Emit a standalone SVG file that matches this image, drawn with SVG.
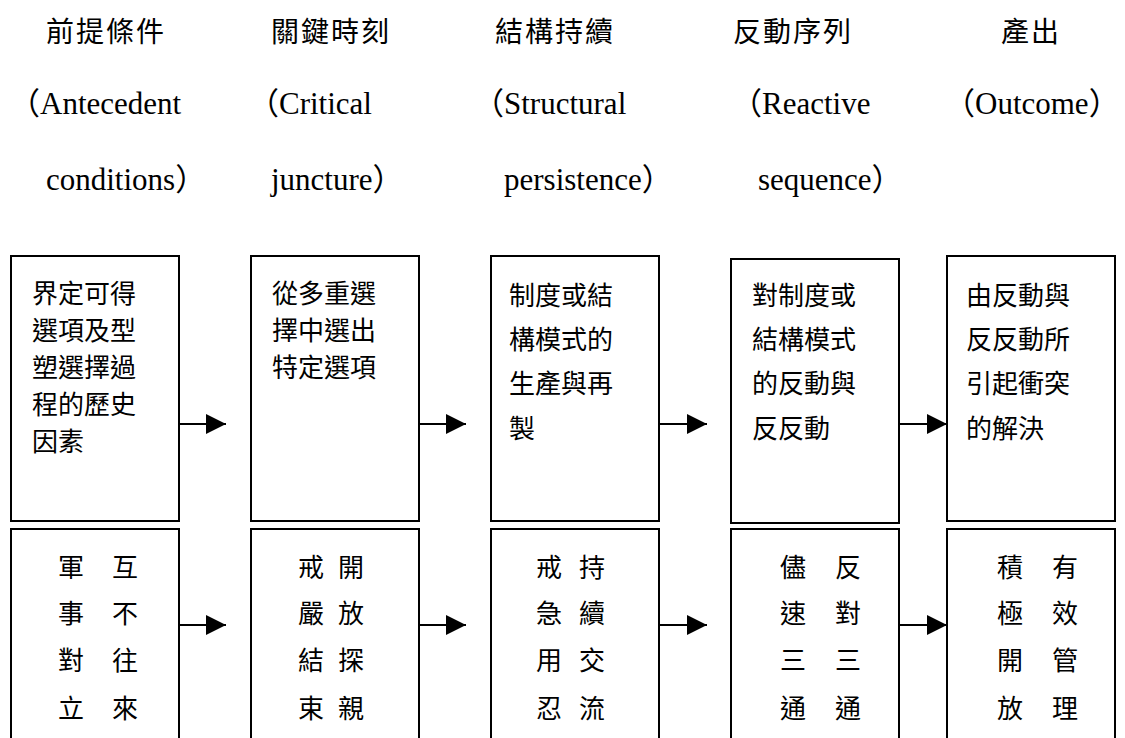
<svg xmlns="http://www.w3.org/2000/svg" width="1125" height="738" viewBox="0 0 1125 738">
<style>
.h{font-family:"Noto Sans CJK TC","Noto Sans CJK SC",sans-serif;font-size:28px;letter-spacing:2px;fill:#000}
.e{font-family:"Liberation Serif","Noto Sans CJK TC",serif;font-size:31px;fill:#000}
.t{font-family:"Noto Sans CJK TC","Noto Sans CJK SC",sans-serif;font-size:26px;fill:#000}
.b{fill:#fff;stroke:#000;stroke-width:2}
.c{stroke:#000;stroke-width:2;fill:none}
</style>
<defs>
<marker id="ah" markerWidth="20" markerHeight="20" refX="20" refY="10" orient="auto" markerUnits="userSpaceOnUse">
<path d="M0,0 L20,10 L0,20 Z" fill="#000"/>
</marker>
</defs>
<rect width="1125" height="738" fill="#fff"/>
<g id="headers">
<text class="h" x="46" y="42">前提條件</text>
<text class="h" x="271" y="42">關鍵時刻</text>
<text class="h" x="495" y="42">結構持續</text>
<text class="h" x="733" y="42">反動序列</text>
<text class="h" x="1001" y="42" letter-spacing="8">產出</text>
<text class="e" x="9" y="114">（Antecedent</text>
<text class="e" x="248" y="114">（Critical</text>
<text class="e" x="473" y="114">（Structural</text>
<text class="e" x="731" y="114">（Reactive</text>
<text class="e" x="944" y="114">（Outcome）</text>
<text class="e" x="46" y="190">conditions）</text>
<text class="e" x="271" y="190">juncture）</text>
<text class="e" x="504" y="190">persistence）</text>
<text class="e" x="758" y="190">sequence）</text>
</g>
<g id="node1">
<rect class="b" x="11" y="256" width="168" height="265"/>
<text class="t" x="32" y="303">界定可得</text>
<text class="t" x="32" y="340">選項及型</text>
<text class="t" x="32" y="377">塑選擇過</text>
<text class="t" x="32" y="414">程的歷史</text>
<text class="t" x="32" y="451">因素</text>
</g>
<g id="node2">
<rect class="b" x="251" y="256" width="168" height="265"/>
<text class="t" x="272" y="303">從多重選</text>
<text class="t" x="272" y="340">擇中選出</text>
<text class="t" x="272" y="377">特定選項</text>
</g>
<g id="node3">
<rect class="b" x="491" y="256" width="168" height="265"/>
<text class="t" x="509" y="305">制度或結</text>
<text class="t" x="509" y="349">構模式的</text>
<text class="t" x="509" y="393">生產與再</text>
<text class="t" x="509" y="438">製</text>
</g>
<g id="node4">
<rect class="b" x="731" y="259" width="168" height="264"/>
<text class="t" x="752" y="305">對制度或</text>
<text class="t" x="752" y="349">結構模式</text>
<text class="t" x="752" y="393">的反動與</text>
<text class="t" x="752" y="438">反反動</text>
</g>
<g id="node5">
<rect class="b" x="947" y="256" width="168" height="265"/>
<text class="t" x="966" y="305">由反動與</text>
<text class="t" x="966" y="349">反反動所</text>
<text class="t" x="966" y="393">引起衝突</text>
<text class="t" x="966" y="438">的解決</text>
</g>
<g id="node6" text-anchor="middle">
<rect class="b" x="11" y="529" width="168" height="240"/>
<text class="t" x="71" y="577">軍</text><text class="t" x="71" y="623">事</text><text class="t" x="71" y="670">對</text><text class="t" x="71" y="718">立</text>
<text class="t" x="125" y="577">互</text><text class="t" x="125" y="623">不</text><text class="t" x="125" y="670">往</text><text class="t" x="125" y="718">來</text>
</g>
<g id="node7" text-anchor="middle">
<rect class="b" x="251" y="529" width="168" height="240"/>
<text class="t" x="311" y="577">戒</text><text class="t" x="311" y="623">嚴</text><text class="t" x="311" y="670">結</text><text class="t" x="311" y="718">束</text>
<text class="t" x="351" y="577">開</text><text class="t" x="351" y="623">放</text><text class="t" x="351" y="670">探</text><text class="t" x="351" y="718">親</text>
</g>
<g id="node8" text-anchor="middle">
<rect class="b" x="491" y="529" width="168" height="240"/>
<text class="t" x="549" y="577">戒</text><text class="t" x="549" y="623">急</text><text class="t" x="549" y="670">用</text><text class="t" x="549" y="718">忍</text>
<text class="t" x="592" y="577">持</text><text class="t" x="592" y="623">續</text><text class="t" x="592" y="670">交</text><text class="t" x="592" y="718">流</text>
</g>
<g id="node9" text-anchor="middle">
<rect class="b" x="731" y="529" width="168" height="240"/>
<text class="t" x="793" y="577">儘</text><text class="t" x="793" y="623">速</text><text class="t" x="793" y="670">三</text><text class="t" x="793" y="718">通</text>
<text class="t" x="848" y="577">反</text><text class="t" x="848" y="623">對</text><text class="t" x="848" y="670">三</text><text class="t" x="848" y="718">通</text>
</g>
<g id="node10" text-anchor="middle">
<rect class="b" x="947" y="529" width="168" height="240"/>
<text class="t" x="1010" y="577">積</text><text class="t" x="1010" y="623">極</text><text class="t" x="1010" y="670">開</text><text class="t" x="1010" y="718">放</text>
<text class="t" x="1065" y="577">有</text><text class="t" x="1065" y="623">效</text><text class="t" x="1065" y="670">管</text><text class="t" x="1065" y="718">理</text>
</g>
<g id="connectors">
<path class="c" d="M179,424 H226" marker-end="url(#ah)"/>
<path class="c" d="M419,424 H466" marker-end="url(#ah)"/>
<path class="c" d="M659,424 H707" marker-end="url(#ah)"/>
<path class="c" d="M899,424 H947" marker-end="url(#ah)"/>
<path class="c" d="M179,625 H226" marker-end="url(#ah)"/>
<path class="c" d="M419,625 H466" marker-end="url(#ah)"/>
<path class="c" d="M659,625 H707" marker-end="url(#ah)"/>
<path class="c" d="M899,625 H947" marker-end="url(#ah)"/>
</g>
</svg>
